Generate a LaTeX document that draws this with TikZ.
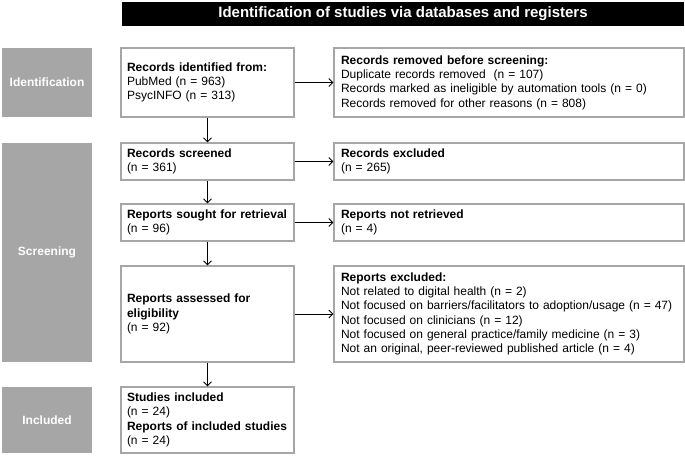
\documentclass[tikz,border=0pt]{standalone}
\usepackage{fontspec}
\setmainfont{Liberation Sans}
\usetikzlibrary{arrows.meta}
\definecolor{boxgrey}{RGB}{166,166,166}
\begin{document}
\begin{tikzpicture}[x=1pt,y=-1pt,
  every node/.style={font=\fontsize{12}{14.3}\selectfont},
  stage/.style={draw=none,fill=boxgrey,text=white,font=\fontsize{12}{14.3}\selectfont\bfseries,minimum width=90pt,inner sep=0pt,align=center},
  lbox/.style={draw=boxgrey,line width=1.2pt,fill=white,inner xsep=6pt,inner ysep=0pt,text width=161pt,align=left,minimum width=173pt,
    execute at begin node={\hyphenpenalty=10000\exhyphenpenalty=10000}},
  rbox/.style={draw=boxgrey,line width=1.2pt,fill=white,inner xsep=7pt,inner ysep=0pt,text width=336pt,align=left,minimum width=350pt,
    execute at begin node={\hyphenpenalty=10000\exhyphenpenalty=10000}},
  flow/.style={-{Straight Barb[length=4pt,width=8pt]},line width=0.9pt,black}
]
\useasboundingbox (0,0) rectangle (685,455);
\node[fill=black,text=white,font=\fontsize{15}{18}\selectfont\bfseries,minimum width=562pt,minimum height=24pt,inner sep=0pt] (title) at (403,14) {Identification of studies via databases and registers};

\node[stage,minimum height=69pt] (sid) at (47,82.5) {Identification};
\node[stage,minimum height=219pt] (sscr) at (47,252.5) {Screening};
\node[stage,minimum height=66pt] (sinc) at (47,420) {Included};

\node[lbox,minimum height=69pt] (ident) at (207.5,82.5) {\textbf{Records identified from:}\\PubMed (n = 963)\\PsycINFO (n = 313)};
\node[rbox,minimum height=69pt] (removed) at (509,82.5) {\textbf{Records removed before screening:}\\Duplicate records removed\ \ (n = 107)\\Records marked as ineligible by automation tools (n = 0)\\Records removed for other reasons (n = 808)};

\node[lbox,minimum height=37pt] (screened) at (207.5,161.5) {\textbf{Records screened}\\(n = 361)};
\node[rbox,minimum height=37pt] (excluded) at (509,161.5) {\textbf{Records excluded}\\(n = 265)};

\node[lbox,minimum height=37pt] (sought) at (207.5,222.5) {\textbf{Reports sought for retrieval}\\(n = 96)};
\node[rbox,minimum height=37pt] (notret) at (509,222.5) {\textbf{Reports not retrieved}\\(n = 4)};

\node[lbox,minimum height=96pt] (assessed) at (207.5,314) {\textbf{Reports assessed for}\\\textbf{eligibility}\\(n = 92)};
\node[rbox,minimum height=96pt] (repexcl) at (509,314) {\textbf{Reports excluded:}\\Not related to digital health (n = 2)\\Not focused on barriers/facilitators to adoption/usage (n = 47)\\Not focused on clinicians (n = 12)\\Not focused on general practice/family medicine (n = 3)\\Not an original, peer-reviewed published article (n = 4)};

\node[lbox,minimum height=66pt] (included) at (207.5,420) {\textbf{Studies included}\\(n = 24)\\\textbf{Reports of included studies}\\(n = 24)};

\draw[flow] (ident) -- (removed);
\draw[flow] (screened) -- (excluded);
\draw[flow] (sought) -- (notret);
\draw[flow] (assessed) -- (repexcl);
\draw[flow] (ident) -- (screened);
\draw[flow] (screened) -- (sought);
\draw[flow] (sought) -- (assessed);
\draw[flow] (assessed) -- (included);
\end{tikzpicture}
\end{document}
